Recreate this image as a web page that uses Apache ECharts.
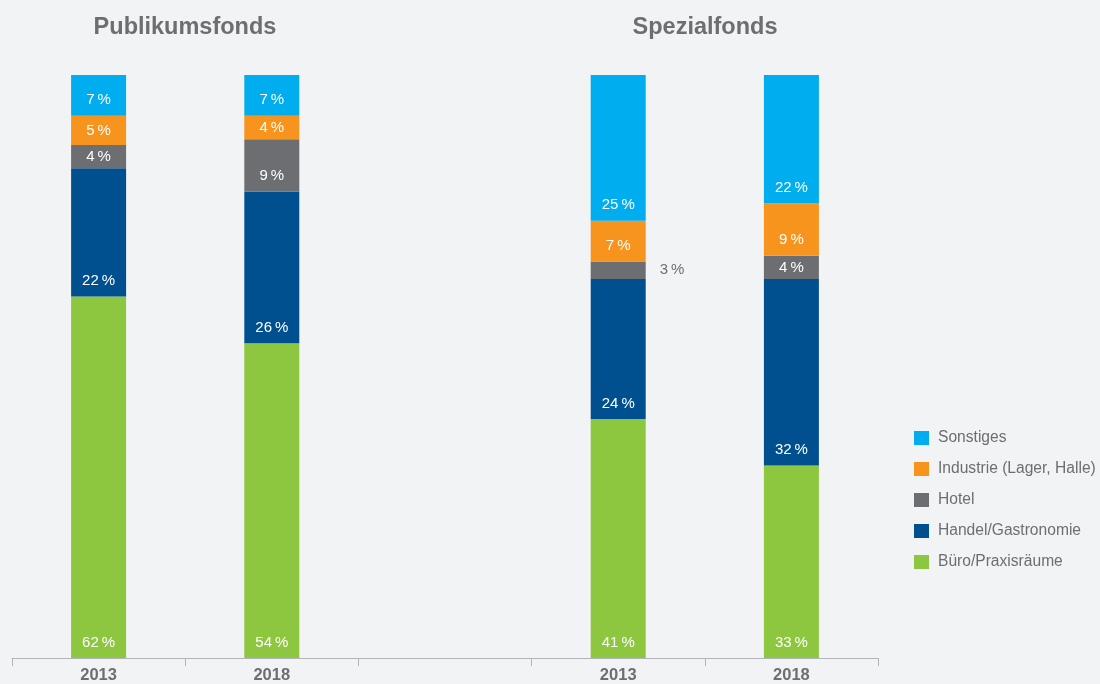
<!DOCTYPE html>
<html>
<head>
<meta charset="utf-8">
<script src="https://cdn.jsdelivr.net/npm/echarts@6/dist/echarts.min.js"></script>
<style>
  html, body { margin: 0; padding: 0; background: #f2f3f5; }
  #chart { width: 1100px; height: 684px; }
</style>
</head>
<body>
<div id="chart"></div>
<script>
// Nutzungsarten der Immobilienfonds, Anteile in Prozent
const categories = ['2013', '2018', '', '2013', '2018'];
const groupTitles = ['Publikumsfonds', 'Spezialfonds'];
const buero = [62, 54, null, 41, 33];
const handel = [22, 26, null, 24, 32];
const hotel = [4, 9, null, 3, 4];
const industrie = [5, 4, null, 7, 9];
const sonstiges = [7, 7, null, 25, 22];

const colors = {
  sonstiges: '#00adee',
  industrie: '#f7941e',
  hotel: '#6d6e71',
  handel: '#00508f',
  buero: '#8dc63f'
};

const FONT = '"Liberation Sans", Arial, Helvetica, sans-serif';
const TEXT_GRAY = '#6d6e71';

// Place each value label: larger segments at their lower edge, small ones centred,
// the tiny 3 % hotel share beside the bar.
function items(values) {
  return values.map(function (v) {
    if (v == null) return null;
    let label;
    if (v <= 3) {
      label = { position: 'right', distance: 14, color: TEXT_GRAY };
    } else if (v < 7) {
      label = { position: 'inside' };
    } else {
      label = { position: 'insideBottom', distance: 8 };
    }
    return { value: v, label: label };
  });
}

function series(name, values, color) {
  return {
    name: name,
    type: 'bar',
    stack: 'total',
    barWidth: 55,
    itemStyle: { color: color },
    label: {
      show: true,
      color: '#ffffff',
      fontFamily: FONT,
      fontSize: 15,
      formatter: function (p) { return p.value + '\u2009%'; }
    },
    emphasis: { disabled: true },
    data: items(values)
  };
}

const titleStyle = { fontFamily: FONT, fontSize: 23.5, fontWeight: 'bold', color: TEXT_GRAY };

const chart = echarts.init(document.getElementById('chart'), null, { renderer: 'canvas' });
chart.setOption({
  backgroundColor: '#f2f3f5',
  animation: false,
  title: [
    { text: groupTitles[0], left: 180, top: 11, textAlign: 'center', textStyle: titleStyle },
    { text: groupTitles[1], left: 700, top: 11, textAlign: 'center', textStyle: titleStyle }
  ],
  legend: {
    orient: 'vertical',
    left: 914,
    top: 430,
    padding: 0,
    itemWidth: 15,
    itemHeight: 14,
    itemGap: 15,
    icon: 'rect',
    selectedMode: false,
    textStyle: { fontFamily: FONT, fontSize: 15.6, color: TEXT_GRAY, padding: [0, 0, 0, 4] },
    data: ['Sonstiges', 'Industrie (Lager, Halle)', 'Hotel', 'Handel/Gastronomie', 'Büro/Praxisräume']
  },
  grid: { left: 12, right: 222, top: 75, bottom: 26, containLabel: false, outerBoundsMode: 'none' },
  xAxis: {
    type: 'category',
    data: categories,
    boundaryGap: true,
    axisLine: { lineStyle: { color: '#b3b4b7', width: 1 } },
    axisTick: { show: true, length: 8, lineStyle: { color: '#b3b4b7' } },
    axisLabel: { fontFamily: FONT, fontSize: 16.5, fontWeight: 'bold', color: TEXT_GRAY, margin: 9 }
  },
  yAxis: {
    type: 'value',
    min: 0,
    max: 100,
    show: false,
    splitLine: { show: false }
  },
  series: [
    series('Büro/Praxisräume', buero, colors.buero),
    series('Handel/Gastronomie', handel, colors.handel),
    series('Hotel', hotel, colors.hotel),
    series('Industrie (Lager, Halle)', industrie, colors.industrie),
    series('Sonstiges', sonstiges, colors.sonstiges)
  ]
});
</script>
</body>
</html>
